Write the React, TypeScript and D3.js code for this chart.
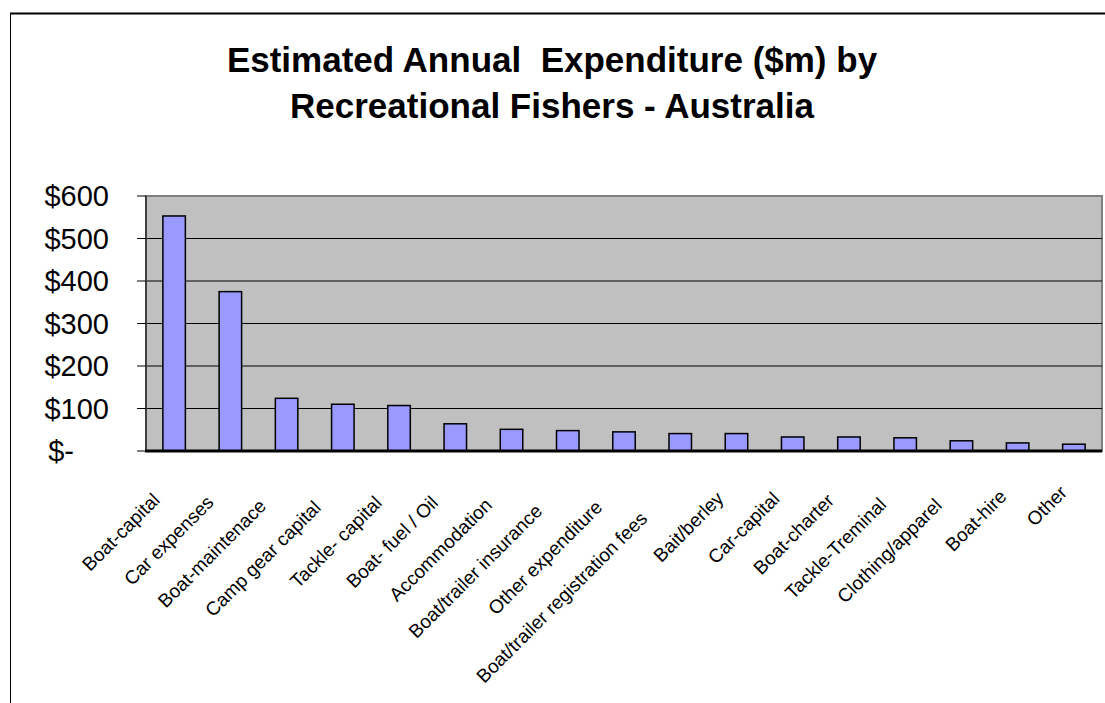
import React, { useEffect, useRef } from "react";
import * as d3 from "d3";

// Estimated annual expenditure by recreational fishers, $m
const categories = [
  "Boat-capital",
  "Car expenses",
  "Boat-maintenace",
  "Camp gear capital",
  "Tackle- capital",
  "Boat- fuel / Oil",
  "Accommodation",
  "Boat/trailer insurance",
  "Other expenditure",
  "Boat/trailer registration fees",
  "Bait/berley",
  "Car-capital",
  "Boat-charter",
  "Tackle-Treminal",
  "Clothing/apparel",
  "Boat-hire",
  "Other",
];
const expenditure = [553, 375, 124, 110, 107, 64, 51, 48, 45, 41, 41, 33, 33, 31, 24, 19, 16];
const yTicks = [0, 100, 200, 300, 400, 500, 600];
const titleLines = [
  "Estimated Annual  Expenditure ($m) by",
  "Recreational Fishers - Australia",
];

const FONT = "'Liberation Sans', Arial, sans-serif";

export default function App() {
  const ref = useRef<SVGSVGElement>(null);

  useEffect(() => {
    const svg = d3.select(ref.current);
    svg.selectAll("*").remove();

    const plot = { left: 146, right: 1102, top: 196, bottom: 451 };

    const x = d3
      .scaleBand<string>()
      .domain(categories)
      .range([plot.left, plot.right])
      .paddingInner(0.6)
      .paddingOuter(0.3);
    const y = d3.scaleLinear().domain([0, 600]).range([plot.bottom, plot.top]);

    // chart frame (continues past the visible area on the right and bottom)
    svg.append("line").attr("x1", 10).attr("x2", 1105).attr("y1", 13.5).attr("y2", 13.5)
      .attr("stroke", "#000").attr("stroke-width", 2);
    svg.append("line").attr("x1", 10.5).attr("x2", 10.5).attr("y1", 13).attr("y2", 703)
      .attr("stroke", "#000").attr("stroke-width", 1);

    // title
    const title = svg.append("text")
      .attr("text-anchor", "middle")
      .attr("font-family", FONT)
      .attr("font-weight", "bold")
      .attr("font-size", 35)
      .style("white-space", "pre");
    const titleBaselines = [72, 118];
    titleLines.forEach((t, i) => {
      title.append("tspan").attr("x", 552).attr("y", titleBaselines[i]).text(t);
    });

    // plot area background
    svg.append("rect")
      .attr("x", plot.left).attr("y", plot.top)
      .attr("width", plot.right - plot.left).attr("height", plot.bottom - plot.top)
      .attr("fill", "#c0c0c0").attr("stroke", "#808080").attr("stroke-width", 2);

    // gridlines
    svg.append("g").selectAll("line")
      .data(yTicks.filter((v) => v > 0 && v < 600))
      .join("line")
      .attr("x1", plot.left).attr("x2", plot.right)
      .attr("y1", (d) => y(d)).attr("y2", (d) => y(d))
      .attr("stroke", "#000").attr("stroke-width", 1);

    // y axis line and ticks
    svg.append("line").attr("x1", plot.left).attr("x2", plot.left)
      .attr("y1", plot.top).attr("y2", plot.bottom)
      .attr("stroke", "#404040").attr("stroke-width", 2);
    svg.append("g").selectAll("line")
      .data(yTicks)
      .join("line")
      .attr("x1", 137).attr("x2", plot.left)
      .attr("y1", (d) => y(d)).attr("y2", (d) => y(d))
      .attr("stroke", "#000").attr("stroke-width", 1);

    // y tick labels (accounting style, zero shown as a dash)
    svg.append("g").selectAll("text")
      .data(yTicks)
      .join("text")
      .attr("x", (d) => (d === 0 ? 74 : 109))
      .attr("y", (d) => y(d))
      .attr("dy", "0.36em")
      .attr("text-anchor", "end")
      .attr("font-family", FONT)
      .attr("font-size", 29)
      .attr("fill", "#000")
      .text((d) => (d === 0 ? "$-" : `$${d}`));

    // bars
    svg.append("g").selectAll("rect")
      .data(categories.map((c, i) => ({ c, v: expenditure[i] })))
      .join("rect")
      .attr("x", (d) => x(d.c)!)
      .attr("y", (d) => y(d.v))
      .attr("width", x.bandwidth())
      .attr("height", (d) => y(0) - y(d.v))
      .attr("fill", "#9999ff")
      .attr("stroke", "#000")
      .attr("stroke-width", 1.5);

    // category axis line
    svg.append("line").attr("x1", plot.left - 1).attr("x2", plot.right)
      .attr("y1", plot.bottom).attr("y2", plot.bottom)
      .attr("stroke", "#000").attr("stroke-width", 3);

    // rotated category labels
    const labels = svg.append("g").selectAll<SVGTextElement, string>("text")
      .data(categories)
      .join("text")
      .attr("text-anchor", "end")
      .attr("font-family", FONT)
      .attr("font-size", 19)
      .attr("fill", "#000")
      .text((d) => d);
    labels.each(function (d) {
      const len = this.getComputedTextLength();
      const cx = x(d)! + x.bandwidth() / 2;
      const shift = 0.141 * len;
      const ex = cx + 1 - shift;
      const ey = plot.bottom + 36 + shift;
      d3.select(this).attr("transform", `translate(${ex},${ey}) rotate(-45)`);
    });
  }, []);

  return (
    <svg
      ref={ref}
      width={1105}
      height={703}
      style={{ position: "absolute", left: 0, top: 0, background: "#fff" }}
    />
  );
}
